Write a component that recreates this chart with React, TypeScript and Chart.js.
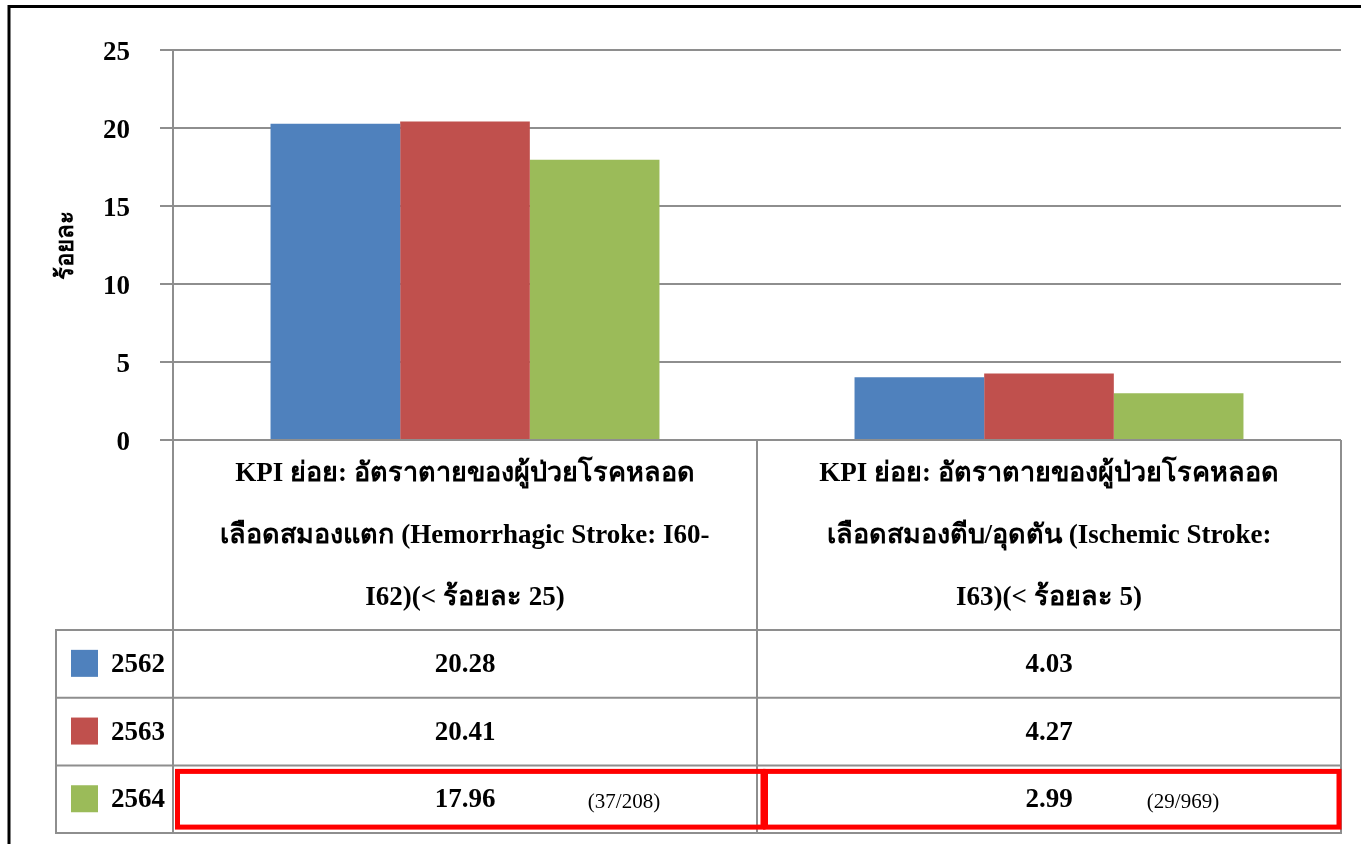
import { useEffect, useRef } from "react";
import { Chart, registerables } from "chart.js";

Chart.register(...registerables);

// Indicator names (x categories), one entry per line of the label
const categories: string[][] = [
  ["KPI ย่อย: อัตราตายของผู้ป่วยโรคหลอด", "เลือดสมองแตก (Hemorrhagic Stroke: I60-", "I62)(< ร้อยละ 25)"],
  ["KPI ย่อย: อัตราตายของผู้ป่วยโรคหลอด", "เลือดสมองตีบ/อุดตัน (Ischemic Stroke:", "I63)(< ร้อยละ 5)"],
];

// Fiscal years (series)
const years = ["2562", "2563", "2564"];

// Death rate, percent
const values2562 = [20.28, 4.03];
const values2563 = [20.41, 4.27];
const values2564 = [17.96, 2.99];

// Numerator/denominator for the latest year
const notes2564 = ["(37/208)", "(29/969)"];

// Y axis range and step
const yMin = 0;
const yMax = 25;
const yStep = 5;

const seriesValues = [values2562, values2563, values2564];
const seriesColors = ["#4F81BD", "#C0504D", "#9BBB59"];

const SERIF = '"Liberation Serif", "Times New Roman", serif';
const GRID = "#8e8e8e";

// Draws the data table under the plot, the highlight boxes and the outer frame
const dataTablePlugin = {
  id: "dataTable",
  afterDraw(chart: Chart) {
    const ctx = chart.ctx;
    const xs = chart.scales.x;
    const area = chart.chartArea;
    const centers = categories.map((_, i) => xs.getPixelForValue(i));
    const mid = (centers[0] + centers[1]) / 2;
    const left = area.left;
    const right = area.right;
    const legendLeft = 56;
    const headerBottom = area.bottom + 190;
    const rowH = 67.7;
    const rows = years.map((_, i) => headerBottom + i * rowH);
    const tableBottom = headerBottom + rowH * years.length;

    ctx.save();
    // table grid
    ctx.strokeStyle = GRID;
    ctx.lineWidth = 2;
    ctx.beginPath();
    [left, mid, right].forEach((x) => {
      ctx.moveTo(x, area.bottom);
      ctx.lineTo(x, tableBottom);
    });
    ctx.moveTo(legendLeft, headerBottom);
    ctx.lineTo(legendLeft, tableBottom);
    for (let i = 0; i <= years.length; i++) {
      const y = headerBottom + i * rowH;
      ctx.moveTo(legendLeft - 1, y);
      ctx.lineTo(right + 1, y);
    }
    ctx.stroke();

    // legend keys, year labels and values
    ctx.textBaseline = "middle";
    years.forEach((yr, r) => {
      const cy = rows[r] + rowH / 2;
      ctx.fillStyle = seriesColors[r];
      ctx.fillRect(71, cy - 14, 27, 27);
      ctx.fillStyle = "#000";
      ctx.font = `bold 27px ${SERIF}`;
      ctx.textAlign = "left";
      ctx.fillText(yr, 111, cy + 1);
      ctx.textAlign = "center";
      seriesValues[r].forEach((v, c) => {
        ctx.fillText(v.toFixed(2), centers[c], cy + 1);
      });
    });

    // counts next to the latest year's values
    const noteOffsets = [159, 134];
    const lastCy = rows[years.length - 1] + rowH / 2;
    ctx.font = `21px ${SERIF}`;
    ctx.textAlign = "center";
    notes2564.forEach((n, c) => {
      ctx.fillText(n, centers[c] + noteOffsets[c], lastCy + 3);
    });

    // red highlight boxes around the latest year
    ctx.strokeStyle = "#FF0000";
    ctx.lineWidth = 5;
    const top = rows[years.length - 1] + 6;
    const bottom = tableBottom - 6;
    ctx.strokeRect(left + 4.5, top, mid + 6 - (left + 4.5), bottom - top);
    ctx.strokeRect(mid + 8.5, top, right - 2 - (mid + 8.5), bottom - top);

    // outer frame
    ctx.strokeStyle = "#000";
    ctx.lineWidth = 3;
    ctx.beginPath();
    ctx.moveTo(9, chart.height);
    ctx.lineTo(9, 6.5);
    ctx.lineTo(chart.width, 6.5);
    ctx.stroke();
    ctx.restore();
  },
};

export default function App() {
  const canvasRef = useRef<HTMLCanvasElement | null>(null);

  useEffect(() => {
    if (!canvasRef.current) return;
    const chart = new Chart(canvasRef.current, {
      type: "bar",
      data: {
        labels: categories,
        datasets: years.map((yr, i) => ({
          label: yr,
          data: seriesValues[i],
          backgroundColor: seriesColors[i],
          borderWidth: 0,
          barPercentage: 1,
          categoryPercentage: 0.666,
        })),
      },
      options: {
        responsive: false,
        animation: false,
        layout: { padding: { left: 0, top: 50, right: 20, bottom: 0 } },
        plugins: {
          legend: { display: false },
          tooltip: { enabled: false },
        },
        scales: {
          x: {
            grid: { display: false, drawTicks: false, tickLength: 0 },
            border: { display: false },
            ticks: {
              color: "#000",
              padding: 3,
              maxRotation: 0,
              autoSkip: false,
              font: { family: SERIF, size: 27, weight: "bold", lineHeight: 62 / 27 },
            },
            afterFit(scale: any) {
              scale.height = 404;
            },
          },
          y: {
            min: yMin,
            max: yMax,
            grid: { color: GRID, lineWidth: 2, tickLength: 13 },
            border: { display: true, color: GRID, width: 2 },
            ticks: {
              stepSize: yStep,
              color: "#000",
              padding: 30,
              labelOffset: 3,
              font: { family: SERIF, size: 27, weight: "bold" },
            },
            title: {
              display: true,
              text: "ร้อยละ",
              color: "#000",
              padding: { top: 52, bottom: 0 },
              font: { family: SERIF, size: 24, weight: "bold", lineHeight: 1.2 },
            },
            afterFit(scale: any) {
              scale.width = 173;
            },
          },
        },
      },
      plugins: [dataTablePlugin],
    });
    return () => chart.destroy();
  }, []);

  return (
    <div style={{ position: "fixed", left: 0, top: 0, width: 1361, height: 844, background: "#fff" }}>
      <canvas ref={canvasRef} width={1361} height={844} />
    </div>
  );
}
